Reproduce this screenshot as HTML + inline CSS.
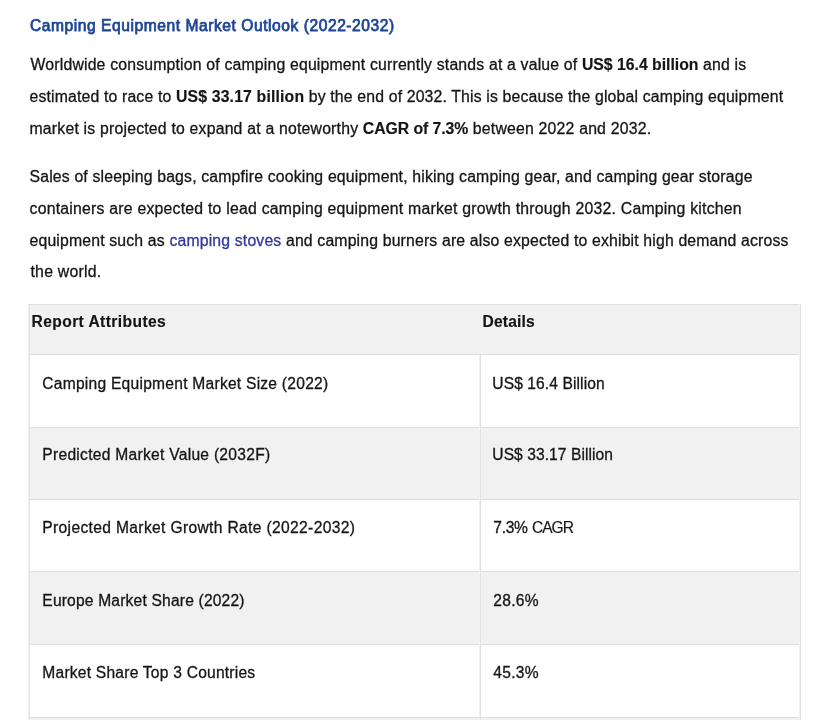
<!DOCTYPE html>
<html>
<head>
<meta charset="utf-8">
<title>Camping Equipment Market Outlook</title>
<style>
html, body { margin: 0; padding: 0; background: #fff; }
body { width: 814px; height: 720px; overflow: hidden; position: relative;
  font-family: "Liberation Sans", Arial, sans-serif; color: #161616; font-size: 16px; }
.l { position: absolute; white-space: nowrap; line-height: 32px; height: 32px; -webkit-text-stroke: 0.3px #161616; }
.l b { -webkit-text-stroke: 0.15px #141414; }
.l a { -webkit-text-stroke: 0.3px #34389a; }
.p { font-size: 15.8px; }
.tb { font-size: 15.6px; }
.th { font-size: 15.6px; }
.title { font-size: 15.6px; color: #1f4696; font-weight: 400; -webkit-text-stroke: 0.75px #1f4696; }
b { font-weight: 700; color: #141414; }
a { color: #34389a; text-decoration: none; }
.hl { position: absolute; left: 29px; width: 772px; height: 1px; background: #dedede; }
.vl { position: absolute; width: 2px; background: linear-gradient(to right, #f1f1f3 50%, #e2e2e4 50%); }
.bg { position: absolute; left: 30px; width: 770px; background: #f1f1f1; }
</style>
</head>
<body>
<div class="bg" style="top:305px;height:49px"></div>
<div class="bg" style="top:428px;height:71px"></div>
<div class="bg" style="top:572px;height:72px"></div>
<div class="bg" style="top:718px;height:2px"></div>
<div class="hl" style="top:304px"></div>
<div class="hl" style="top:354px"></div>
<div class="hl" style="top:427px"></div>
<div class="hl" style="top:499px"></div>
<div class="hl" style="top:571px"></div>
<div class="hl" style="top:644px"></div>
<div class="hl" style="top:717px"></div>
<div class="vl" style="left:28px;top:304px;height:416px"></div>
<div class="vl" style="left:799px;top:304px;height:416px"></div>
<div class="vl" style="left:479px;top:355px;height:362px"></div>
<div class="vl" style="left:479px;top:718px;height:2px"></div>
<div class="l title" id="t" style="left:30.00px;top:9.69px;letter-spacing:0.547px">Camping Equipment Market Outlook (2022-2032)</div>
<div class="l p" id="a1" style="left:30.50px;top:49.38px;letter-spacing:0.182px">Worldwide consumption of camping equipment currently stands at a value of <b style="letter-spacing:-0.018px">US$ 16.4 billion</b> and is</div>
<div class="l p" id="a2" style="left:29.50px;top:81.33px;letter-spacing:0.159px">estimated to race to <b>US$ 33.17 billion</b> by the end of 2032. This is because the global camping equipment</div>
<div class="l p" id="a3" style="left:29.50px;top:113.13px;letter-spacing:0.203px">market is projected to expand at a noteworthy <b style="letter-spacing:-0.067px">CAGR of 7.3%</b> between 2022 and 2032.</div>
<div class="l p" id="b1" style="left:29.50px;top:161.13px;letter-spacing:0.167px">Sales of sleeping bags, campfire cooking equipment, hiking camping gear, and camping gear storage</div>
<div class="l p" id="b2" style="left:29.50px;top:192.83px;letter-spacing:0.229px">containers are expected to lead camping equipment market growth through 2032. Camping kitchen</div>
<div class="l p" id="b3" style="left:29.50px;top:224.73px;letter-spacing:0.161px">equipment such as <a>camping stoves</a> and camping burners are also expected to exhibit high demand across</div>
<div class="l p" id="b4" style="left:30.50px;top:256.23px;letter-spacing:0.233px">the world.</div>
<div class="l th" id="h1" style="left:31.50px;top:305.99px;letter-spacing:0.413px"><b>Report Attributes</b></div>
<div class="l th" id="h2" style="left:482.50px;top:305.99px;letter-spacing:0.183px"><b>Details</b></div>
<div class="l tb" id="r1a" style="left:42.30px;top:367.99px;letter-spacing:0.243px">Camping Equipment Market Size (2022)</div>
<div class="l tb" id="r1b" style="left:492.30px;top:367.99px;letter-spacing:0.093px">US$ 16.4 Billion</div>
<div class="l tb" id="r2a" style="left:42.30px;top:439.29px;letter-spacing:0.276px">Predicted Market Value (2032F)</div>
<div class="l tb" id="r2b" style="left:492.30px;top:439.29px;letter-spacing:0.069px">US$ 33.17 Billion</div>
<div class="l tb" id="r3a" style="left:42.30px;top:512.19px;letter-spacing:0.349px">Projected Market Growth Rate (2022-2032)</div>
<div class="l tb" id="r3b" style="left:493.30px;top:512.19px"><span style="letter-spacing:-0.3px">7.3%</span><span style="letter-spacing:0"> </span><span style="letter-spacing:-1.05px;-webkit-text-stroke-width:0.15px">CAGR</span></div>
<div class="l tb" id="r4a" style="left:42.30px;top:584.69px;letter-spacing:0.184px">Europe Market Share (2022)</div>
<div class="l tb" id="r4b" style="left:493.30px;top:584.69px;letter-spacing:0.250px">28.6%</div>
<div class="l tb" id="r5a" style="left:42.30px;top:657.19px;letter-spacing:0.222px">Market Share Top 3 Countries</div>
<div class="l tb" id="r5b" style="left:493.30px;top:657.19px;letter-spacing:0.250px">45.3%</div>
</body>
</html>
